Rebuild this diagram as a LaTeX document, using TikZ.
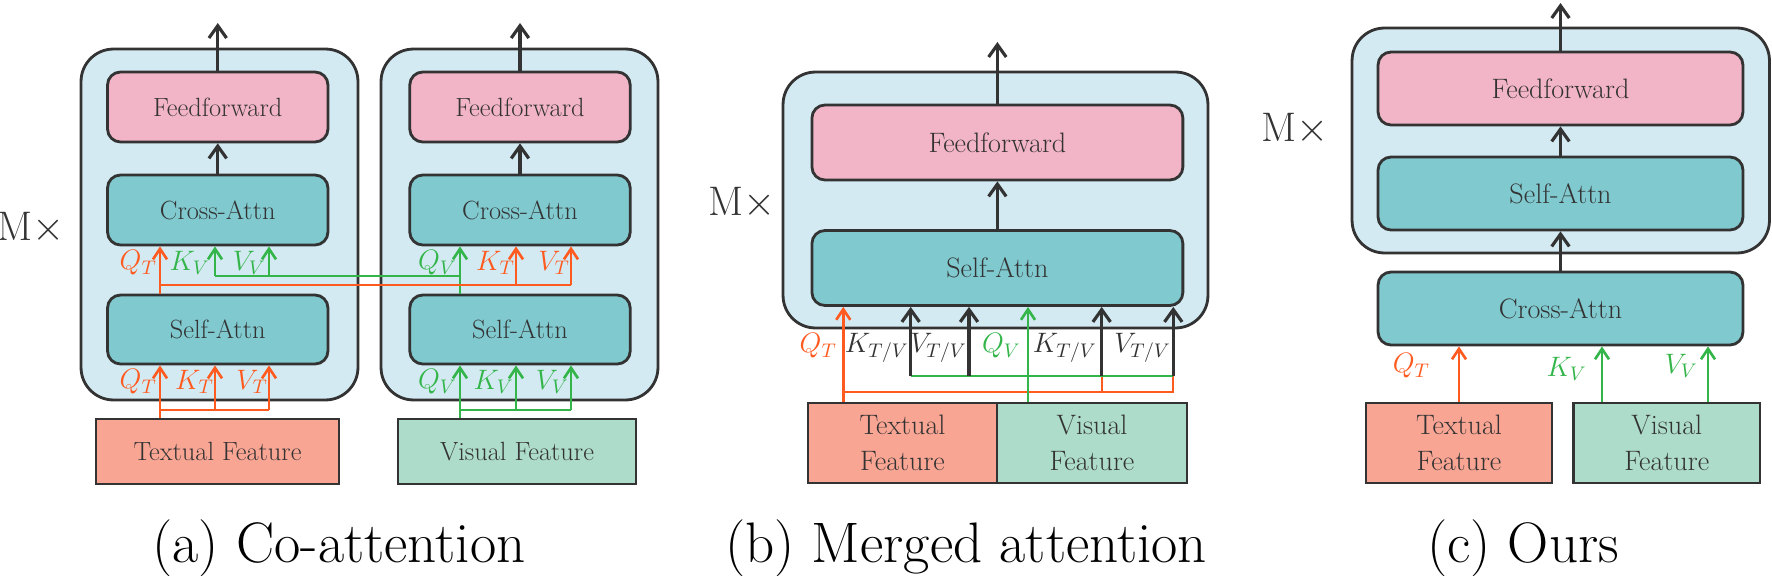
\RequirePackage{fix-cm}
\documentclass[tikz,border=0pt]{standalone}
\usetikzlibrary{arrows.meta}

\definecolor{dark}{RGB}{51,51,51}
\definecolor{outfill}{RGB}{212,234,242}
\definecolor{ffpink}{RGB}{242,180,199}
\definecolor{attteal}{RGB}{127,201,207}
\definecolor{txsalmon}{RGB}{249,165,148}
\definecolor{vimint}{RGB}{173,220,203}
\definecolor{ocol}{RGB}{255,90,31}
\definecolor{gcol}{RGB}{51,181,74}

\tikzset{
  outbox/.style={draw=dark, fill=outfill, line width=1.6pt, rounded corners=0.65cm, inner sep=0pt},
  ffbox/.style={draw=dark, fill=ffpink, line width=1.6pt, rounded corners=0.26cm, inner sep=0pt, text=dark},
  attbox/.style={draw=dark, fill=attteal, line width=1.6pt, rounded corners=0.26cm, inner sep=0pt, text=dark},
  txbox/.style={draw=dark, fill=txsalmon, line width=1.6pt, inner sep=0pt, align=center, text=dark},
  vibox/.style={draw=dark, fill=vimint, line width=1.6pt, inner sep=0pt, align=center, text=dark},
  blkA/.style={minimum width=4.41cm, minimum height=1.4cm},
  blkB/.style={minimum width=7.42cm, minimum height=1.5cm},
  blkC/.style={minimum width=7.3cm, minimum height=1.46cm},
  fa/.style={font=\fontsize{15}{17}\selectfont},
  fb/.style={font=\fontsize{16}{20.5}\selectfont},
  times/.style={font=\fontsize{23.5}{28}\selectfont, text=dark},
  capt/.style={font=\fontsize{32.5}{38}\selectfont, anchor=base},
  arr/.style={draw=dark, line width=1.8pt, -{Straight Barb[length=7pt,width=10pt]}},
  oarr/.style={draw=ocol, line width=1.5pt, -{Straight Barb[length=6pt,width=8pt]}},
  garr/.style={draw=gcol, line width=1.5pt, -{Straight Barb[length=6pt,width=8pt]}},
  owire/.style={draw=ocol, line width=1.3pt},
  gwire/.style={draw=gcol, line width=1.3pt},
  olab/.style={text=ocol, anchor=east, inner sep=0pt},
  glab/.style={text=gcol, anchor=east, inner sep=0pt},
  klab/.style={text=dark, anchor=east, inner sep=0pt}
}

\begin{document}
\begin{tikzpicture}[x=0.02cm, y=-0.02cm]
  \useasboundingbox (0,0) rectangle (1772,575);

  %(a) co-attention
  \node[outbox, minimum width=5.54cm, minimum height=7.02cm] (outA1) at (219.5,224.5) {};
  \node[outbox, minimum width=5.54cm, minimum height=7.02cm] (outA2) at (519.5,224.5) {};
  \node[ffbox, blkA, fa] (ffA1) at (217.75,107) {Feedforward};
  \node[attbox, blkA, fa] (crA1) at (217.75,210) {Cross-Attn};
  \node[attbox, blkA, fa, minimum height=1.38cm] (saA1) at (217.75,329.5) {Self-Attn};
  \node[ffbox, blkA, fa] (ffA2) at (520,107) {Feedforward};
  \node[attbox, blkA, fa] (crA2) at (520,210) {Cross-Attn};
  \node[attbox, blkA, fa, minimum height=1.38cm] (saA2) at (520,329.5) {Self-Attn};
  \node[txbox, fa, minimum width=4.86cm, minimum height=1.3cm] (txA) at (217.5,451.5) {Textual Feature};
  \node[vibox, fa, minimum width=4.76cm, minimum height=1.3cm] (viA) at (517,451.5) {Visual Feature};
  \node[times] (mxA) at (31.5,228) {M$\times$};
  \coordinate (topA1) at (217.75,23);
  \coordinate (topA2) at (520,23);
  \coordinate (a1) at (160,0);
  \coordinate (a2) at (215,0);
  \coordinate (a3) at (269,0);
  \coordinate (b1) at (460,0);
  \coordinate (b2) at (516,0);
  \coordinate (b3) at (571,0);
  \coordinate (oyA) at (0,285);
  \coordinate (gyA) at (0,276);
  \coordinate (lyA) at (0,410);

  \draw[arr] (ffA1.north) -- (topA1);
  \draw[arr] (ffA2.north) -- (topA2);
  \draw[arr] (crA1.north) -- (ffA1.south);
  \draw[arr] (crA2.north) -- (ffA2.south);
  %cross links
  \draw[oarr] (saA1.north -| a1) -- (crA1.south -| a1);
  \draw[garr] (saA2.north -| b1) -- (crA2.south -| b1);
  \draw[gwire] (a2 |- gyA) -- (b1 |- gyA);
  \draw[owire] (a1 |- oyA) -- (b3 |- oyA);
  \foreach \c in {a2,a3}{
    \draw[garr] (\c |- gyA) -- (crA1.south -| \c);
  }
  \foreach \c in {b2,b3}{
    \draw[oarr] (\c |- oyA) -- (crA2.south -| \c);
  }
  %inputs
  \draw[oarr] (txA.north -| a1) -- (saA1.south -| a1);
  \draw[owire] (a1 |- lyA) -- (a3 |- lyA);
  \draw[garr] (viA.north -| b1) -- (saA2.south -| b1);
  \draw[gwire] (b1 |- lyA) -- (b3 |- lyA);
  \foreach \c in {a2,a3}{
    \draw[oarr] (\c |- lyA) -- (saA1.south -| \c);
  }
  \foreach \c in {b2,b3}{
    \draw[garr] (\c |- lyA) -- (saA2.south -| \c);
  }
  \node[olab, fb] at (157,263) {$Q_T$};
  \node[glab, fb] at (210,263) {$K_V$};
  \node[glab, fb] at (266,263) {$V_V$};
  \node[glab, fb] at (457,263) {$Q_V$};
  \node[olab, fb] at (515,263) {$K_T$};
  \node[olab, fb] at (570,263) {$V_T$};
  \node[olab, fb] at (157,382) {$Q_T$};
  \node[olab, fb] at (214,382) {$K_T$};
  \node[olab, fb] at (268,382) {$V_T$};
  \node[glab, fb] at (457,382) {$Q_V$};
  \node[glab, fb] at (514,382) {$K_V$};
  \node[glab, fb] at (569,382) {$V_V$};

  %(b) merged attention
  \node[outbox, minimum width=8.5cm, minimum height=5.12cm] (outB) at (995.5,200) {};
  \node[ffbox, blkB, fb] (ffB) at (997.4,142.5) {Feedforward};
  \node[attbox, blkB, fb] (saB) at (997.4,268) {Self-Attn};
  \node[txbox, fb, minimum width=3.78cm, minimum height=1.6cm] (txB) at (902.5,443) {Textual\\Feature};
  \node[vibox, fb, minimum width=3.8cm, minimum height=1.6cm] (viB) at (1092,443) {Visual\\Feature};
  \node[times] (mxB) at (742.5,203) {M$\times$};
  \coordinate (topB) at (997.4,42);
  \coordinate (c1) at (843.3,0);
  \coordinate (c2) at (910.7,0);
  \coordinate (c3) at (969,0);
  \coordinate (c4) at (1028,0);
  \coordinate (c5) at (1101.7,0);
  \coordinate (c6) at (1173.3,0);
  \coordinate (gyB) at (0,376);
  \coordinate (oyB) at (0,391.7);

  \draw[arr] (ffB.north) -- (topB);
  \draw[arr] (saB.north) -- (ffB.south);
  \draw[owire] (c1 |- oyB) -| (c6 |- gyB);
  \draw[owire] (c5 |- oyB) -- (c5 |- gyB);
  \draw[gwire] (c2 |- gyB) -- (c6 |- gyB);
  \draw[oarr] (txB.north -| c1) -- (saB.south -| c1);
  \draw[garr] (viB.north -| c4) -- (saB.south -| c4);
  \foreach \c in {c2,c3,c5,c6}{
    \draw[arr] (\c |- gyB) -- (saB.south -| \c);
  }
  \node[olab, fb] at (837,346) {$Q_T$};
  \node[klab, fb] at (909,348) {$K_{T/V}$};
  \node[klab, fb] at (967,348) {$V_{T/V}$};
  \node[glab, fb] at (1021,346) {$Q_V$};
  \node[klab, fb] at (1097,348) {$K_{T/V}$};
  \node[klab, fb] at (1171,348) {$V_{T/V}$};

  %(c) ours
  \node[outbox, minimum width=8.35cm, minimum height=4.5cm] (outC) at (1560.75,140.5) {};
  \node[ffbox, blkC, fb] (ffC) at (1560.5,88.5) {Feedforward};
  \node[attbox, blkC, fb] (saC) at (1560.5,193.5) {Self-Attn};
  \node[attbox, blkC, fb] (crC) at (1560.5,308.5) {Cross-Attn};
  \node[txbox, fb, minimum width=3.72cm, minimum height=1.6cm] (txC) at (1459,443) {Textual\\Feature};
  \node[vibox, fb, minimum width=3.73cm, minimum height=1.6cm] (viC) at (1666.8,443) {Visual\\Feature};
  \node[times] (mxC) at (1295,129) {M$\times$};
  \coordinate (topC) at (1560.5,3);
  \coordinate (d1) at (1459,0);
  \coordinate (d2) at (1602,0);
  \coordinate (d3) at (1708,0);

  \draw[arr] (ffC.north) -- (topC);
  \draw[arr] (saC.north) -- (ffC.south);
  \draw[arr] (crC.north) -- (saC.south);
  \draw[oarr] (txC.north -| d1) -- (crC.south -| d1);
  \draw[garr] (viC.north -| d2) -- (crC.south -| d2);
  \draw[garr] (viC.north -| d3) -- (crC.south -| d3);
  \node[olab, fb] at (1430,366) {$Q_T$};
  \node[glab, fb] at (1587,369) {$K_V$};
  \node[glab, fb] at (1698,366) {$V_V$};

  %captions
  \node[capt] (capA) at (339,562) {(a) Co-attention};
  \node[capt] (capB) at (966,562) {(b) Merged attention};
  \node[capt] (capC) at (1523,562) {(c) Ours};
\end{tikzpicture}
\end{document}
